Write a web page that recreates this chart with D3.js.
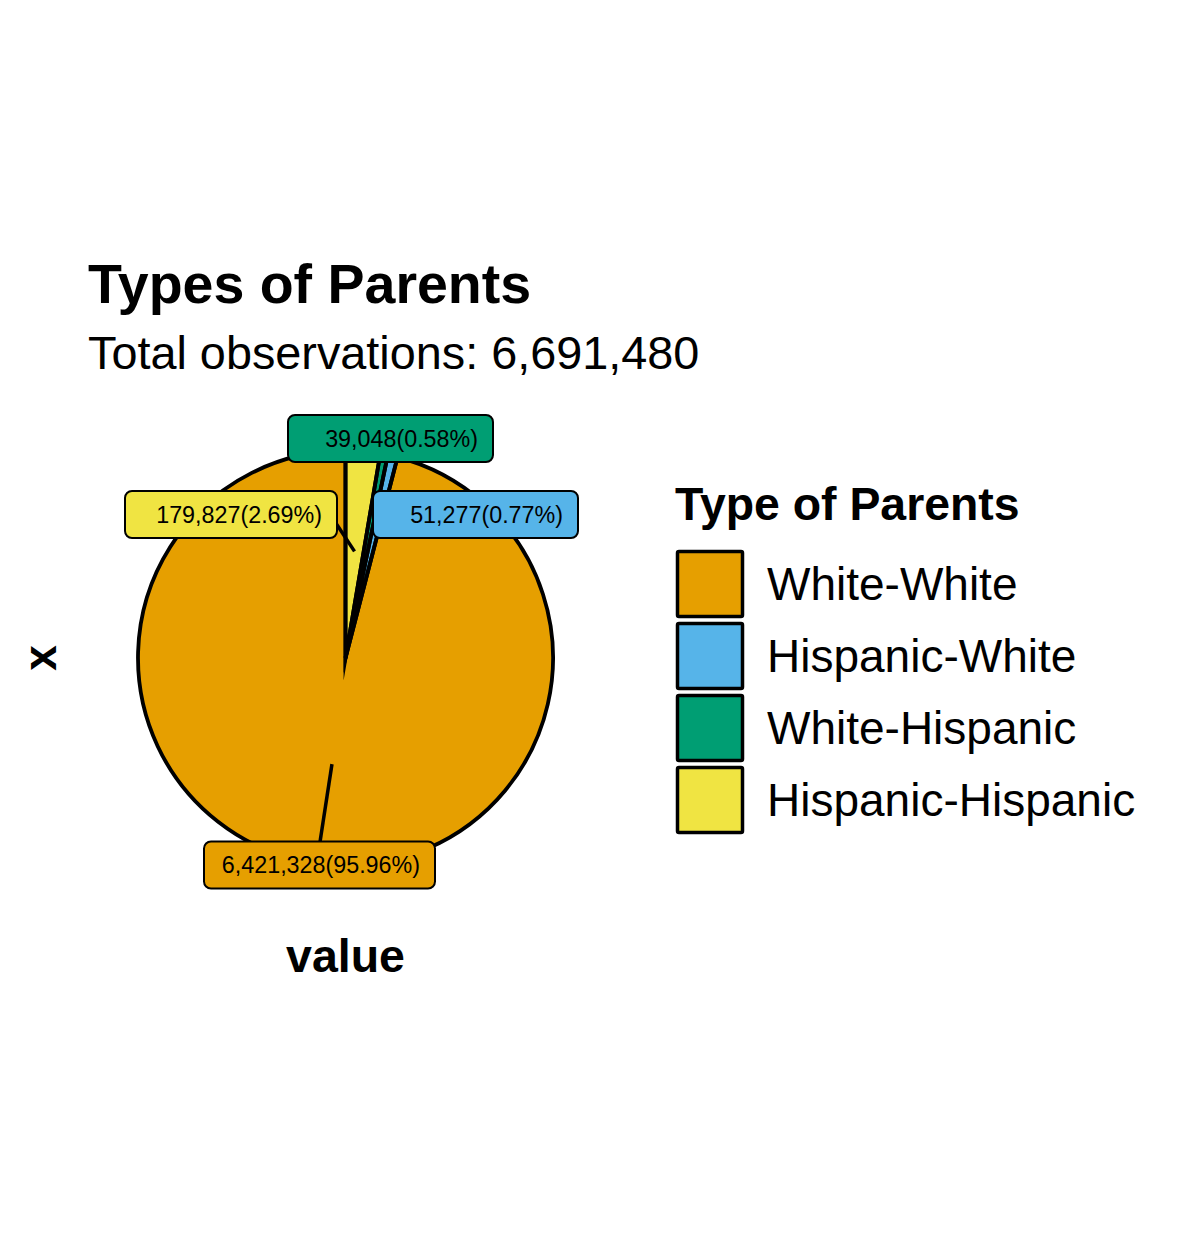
<!doctype html>
<html lang="en">
<head>
    <meta charset="UTF-8">
    <script src="https://cdnjs.cloudflare.com/ajax/libs/d3/7.8.5/d3.min.js"></script>
    <title>Types of Parents</title>
    <style>
        body { margin: 0; background: #fff; }
        text { font-family: "Liberation Sans", Arial, sans-serif; }
    </style>
</head>
<body>

<div id="viz_area"></div>

<script>
    // data
    const categories = ["White-White", "Hispanic-White", "White-Hispanic", "Hispanic-Hispanic"];
    const counts = [6421328, 51277, 39048, 179827];
    const colors = ["#E69F00", "#56B4E9", "#009E73", "#F0E442"];
    // stacking order of the slices, clockwise from 12 o'clock
    const sliceOrder = ["Hispanic-Hispanic", "White-Hispanic", "Hispanic-White", "White-White"];

    const chartTitle = "Types of Parents";
    const legendTitle = "Type of Parents";
    const xTitle = "value", yTitle = "x";

    // repelled label boxes, relative to the pie centre (left, right, centre y, leader end)
    const labelLayout = {
        "White-White":       {x0: -141.5, x1: 89.5,  cy: 207,    seg: [-25.5, 184]},
        "Hispanic-White":    {x0: 27.5,   x1: 232.5, cy: -143.5, seg: null},
        "White-Hispanic":    {x0: -57.5,  x1: 147.5, cy: -219.5, seg: null},
        "Hispanic-Hispanic": {x0: -220.5, x1: -8.5,  cy: -143.5, seg: [-11, -137]}
    };

    const width = 1181, height = 1247;
    const cx = 345.5, cy = 658, radius = 207.5;

    const total = d3.sum(counts);
    const color = d3.scaleOrdinal().domain(categories).range(colors);
    const countOf = d3.scaleOrdinal().domain(categories).range(counts);

    const svg = d3.select('#viz_area')
        .append("svg")
        .attr("width", width)
        .attr("height", height);

    // titles
    svg.append("text")
        .attr("x", 88).attr("y", 303)
        .style("font-size", "55.5px").style("font-weight", "bold")
        .text(chartTitle);

    svg.append("text")
        .attr("x", 88).attr("y", 369)
        .style("font-size", "46.8px")
        .text("Total observations: " + d3.format(",")(total));

    // pie
    const pie = d3.pie().sort(null).value(d => countOf(d));
    const arcs = pie(sliceOrder);
    const arc = d3.arc().innerRadius(0).outerRadius(radius);
    const anchorArc = d3.arc().innerRadius(107).outerRadius(107);

    const g = svg.append("g").attr("transform", `translate(${cx},${cy})`);

    g.selectAll("path.slice")
        .data(arcs)
        .join("path")
        .attr("class", "slice")
        .attr("d", arc)
        .attr("fill", d => color(d.data));

    // outlines on top so the thin-slice mitres show at the centre
    g.selectAll("path.outline")
        .data(arcs)
        .join("path")
        .attr("class", "outline")
        .attr("d", arc)
        .attr("fill", "none")
        .attr("stroke", "#000")
        .attr("stroke-width", 3.8)
        .attr("stroke-linejoin", "miter")
        .attr("stroke-miterlimit", 13);

    // leader lines
    g.selectAll("line.seg")
        .data(arcs.filter(d => labelLayout[d.data].seg))
        .join("line")
        .attr("class", "seg")
        .attr("x1", d => anchorArc.centroid(d)[0])
        .attr("y1", d => anchorArc.centroid(d)[1])
        .attr("x2", d => labelLayout[d.data].seg[0])
        .attr("y2", d => labelLayout[d.data].seg[1])
        .attr("stroke", "#000")
        .attr("stroke-width", 3.5);

    // label boxes
    const fmtPct = d3.format(".2f");
    const labels = g.selectAll("g.lab")
        .data(arcs)
        .join("g")
        .attr("class", "lab");

    labels.append("rect")
        .attr("x", d => labelLayout[d.data].x0)
        .attr("y", d => labelLayout[d.data].cy - 23.5)
        .attr("width", d => labelLayout[d.data].x1 - labelLayout[d.data].x0)
        .attr("height", 47)
        .attr("rx", 7)
        .attr("fill", d => color(d.data))
        .attr("stroke", "#000")
        .attr("stroke-width", 2);

    labels.append("text")
        .attr("x", d => labelLayout[d.data].x1 - 15)
        .attr("y", d => labelLayout[d.data].cy)
        .attr("dy", "0.36em")
        .attr("text-anchor", "end")
        .style("font-size", "23.3px")
        .text(d => d3.format(",")(d.value) + "(" + fmtPct(d.value / total * 100) + "%)");

    // axis titles
    svg.append("text")
        .attr("x", cx).attr("y", 972)
        .attr("text-anchor", "middle")
        .style("font-size", "46.5px").style("font-weight", "bold")
        .text(xTitle);

    svg.append("text")
        .attr("transform", `translate(56,${cy}) rotate(-90)`)
        .attr("text-anchor", "middle")
        .style("font-size", "46px").style("font-weight", "bold")
        .text(yTitle);

    // legend
    const legend = svg.append("g").attr("transform", "translate(676,550)");
    legend.append("text")
        .attr("x", -1).attr("y", -30)
        .style("font-size", "46.4px").style("font-weight", "bold")
        .text(legendTitle);

    const item = legend.selectAll("g.item")
        .data(categories)
        .join("g")
        .attr("class", "item")
        .attr("transform", (d, i) => `translate(0,${i * 72})`);

    item.append("rect")
        .attr("x", 1.5).attr("y", 1.5)
        .attr("width", 65).attr("height", 65)
        .attr("rx", 1.5)
        .attr("fill", d => color(d))
        .attr("stroke", "#000")
        .attr("stroke-width", 3.5);

    item.append("text")
        .attr("x", 91).attr("y", 50)
        .style("font-size", "46px")
        .text(d => d);
</script>
</body>
</html>
